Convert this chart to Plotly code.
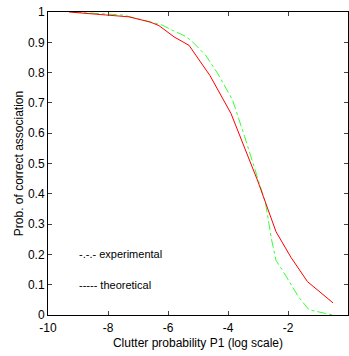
import plotly.graph_objects as go

theo_x = [-9.3, -8.8, -7.9, -7.3, -6.6, -6.3, -5.8, -5.3, -4.6, -3.9, -3.0, -2.4, -1.9, -1.35, -0.5]
theo_y = [1.0, 0.996, 0.99, 0.984, 0.967, 0.955, 0.918, 0.89, 0.79, 0.665, 0.44, 0.275, 0.19, 0.11, 0.04]

exp_x = [-9.2, -8.3, -7.5, -6.9, -6.2, -5.8, -5.5, -5.25, -4.75, -4.35, -3.85, -3.45, -3.0, -2.75, -2.55, -2.4, -2.2, -1.65, -1.3, -0.85, -0.5]
exp_y = [1.0, 0.995, 0.99, 0.975, 0.957, 0.937, 0.924, 0.908, 0.858, 0.798, 0.71, 0.59, 0.45, 0.37, 0.25, 0.18, 0.15, 0.06, 0.017, 0.007, 0.0]

x_ticks = [-10, -8, -6, -4, -2, 0]
x_tick_labels = ["-10", "-8", "-6", "-4", "-2", "0"]
y_ticks = [0, 0.1, 0.2, 0.3, 0.4, 0.5, 0.6, 0.7, 0.8, 0.9, 1]
y_tick_labels = ["0", "0.1", "0.2", "0.3", "0.4", "0.5", "0.6", "0.7", "0.8", "0.9", "1"]

fig = go.Figure()
fig.add_trace(go.Scatter(x=exp_x, y=exp_y, mode="lines",
                         line=dict(color="#33ff33", width=1, dash="dashdot"), name="experimental"))
fig.add_trace(go.Scatter(x=theo_x, y=theo_y, mode="lines",
                         line=dict(color="#ff0000", width=1), name="theoretical"))

font = dict(family="Liberation Sans, Arial", size=12, color="black")
fig.update_layout(
    width=349, height=356,
    margin=dict(l=48, r=1, t=12, b=41),
    paper_bgcolor="white", plot_bgcolor="white",
    showlegend=False,
    font=font,
    xaxis=dict(range=[-10, 0], tickvals=x_ticks, ticktext=x_tick_labels, ticks="inside", ticklen=4,
               showline=True, mirror="ticks", linecolor="black", linewidth=1,
               showgrid=False, zeroline=False, tickfont=font, ticklabelstandoff=2,
               title=dict(text="Clutter probability P1 (log scale)", font=font, standoff=4)),
    yaxis=dict(range=[0, 1], tickvals=y_ticks, ticktext=y_tick_labels, ticks="inside", ticklen=4,
               showline=True, mirror="ticks", linecolor="black", linewidth=1,
               showgrid=False, zeroline=False, tickfont=font,
               title=dict(text="Prob. of correct association", font=font, standoff=1)),
    annotations=[
        dict(x=-9.05, y=0.2, xref="x", yref="y", text="-.-.- experimental", showarrow=False,
             xanchor="left", font=dict(family="Liberation Sans, Arial", size=11, color="black")),
        dict(x=-9.05, y=0.1, xref="x", yref="y", text="----- theoretical", showarrow=False,
             xanchor="left", font=dict(family="Liberation Sans, Arial", size=11, color="black")),
    ],
)
fig.write_html("out.html")
